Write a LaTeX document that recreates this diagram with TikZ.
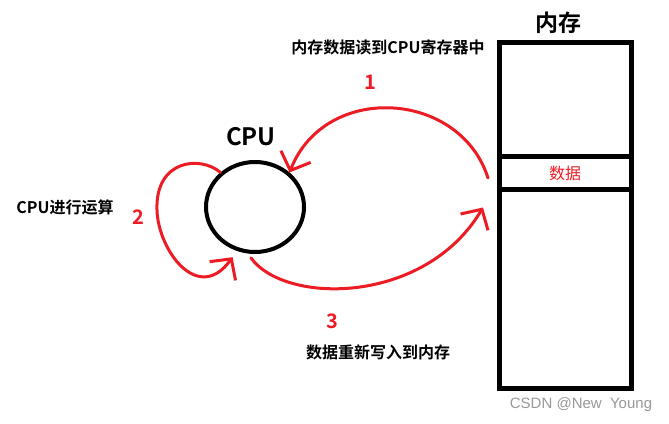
\documentclass[tikz,border=0pt]{standalone}
\usepackage{fontspec}
\setmainfont{Noto Sans CJK SC}[BoldFont={Noto Sans CJK SC Bold}]
\newfontfamily\wmfont{Liberation Sans}
\usepackage{tikz}
\usetikzlibrary{shapes.geometric,arrows.meta,positioning}
\definecolor{pred}{RGB}{237,28,36}

\begin{document}
\begin{tikzpicture}[x=1pt,y=-1pt,
  >={Straight Barb[length=15pt,width=32pt]},
  cell/.style={draw,line width=5pt,minimum width=132pt,inner sep=0pt,outer sep=0pt},
  lbl/.style={font=\fontsize{16}{18}\selectfont\bfseries,inner sep=0pt},
  num/.style={font=\fontsize{20}{22}\selectfont\bfseries,text=pred,inner sep=0pt},
  arr/.style={->,draw=pred,line width=3pt,line cap=round,line join=round}
]
\useasboundingbox[fill=white] (0,0) rectangle (669,423);
% memory
\node[cell,minimum height=114.5pt] (mtop) at (565,99.25) {};
\node[cell,minimum height=33pt,below=0pt of mtop,text=pred,font=\fontsize{16}{18}\selectfont] (mdata) {数据};
\node[cell,minimum height=198.5pt,below=0pt of mdata] (mbot) {};
\node[font=\fontsize{23}{25}\selectfont\bfseries,inner sep=0pt] (mtitle) at (558,23) {内存};
% cpu
\node[draw,ellipse,line width=4pt,minimum width=98pt,minimum height=90pt] (cpu) at (255,207) {};
\node[font=\fontsize{24}{26}\selectfont\bfseries,inner sep=0pt] (cputitle) at (251,137) {CPU};
% arrows
\draw[arr] ([xshift=-11pt,yshift=-5pt]mdata.west) .. controls (460,90) and (325,82) .. (cpu.45);
\draw[arr] (cpu.135) .. controls (200,155) and (155,160) .. (157,210)
  .. controls (158,250) and (198,305) .. ([yshift=-8pt]cpu.242);
\draw[arr] ([yshift=-4pt]cpu.265) .. controls (285,305) and (425,305) .. ([xshift=-16pt,yshift=-18pt]mbot.north west);
% labels
\node[lbl] (rdlbl) at (388,47) {内存数据读到CPU寄存器中};
\node[num] (n1) at (370,82) {1};
\node[lbl] (oplbl) at (65,207) {CPU进行运算};
\node[num] (n2) at (138,217) {2};
\node[num] (n3) at (332,321) {3};
\node[lbl] (wrlbl) at (378,352) {数据重新写入到内存};
\node[font=\wmfont\fontsize{15}{17}\selectfont,text=black!40,inner sep=0pt] (wm) at (581,405) {CSDN @New~~Young};
\end{tikzpicture}
\end{document}
